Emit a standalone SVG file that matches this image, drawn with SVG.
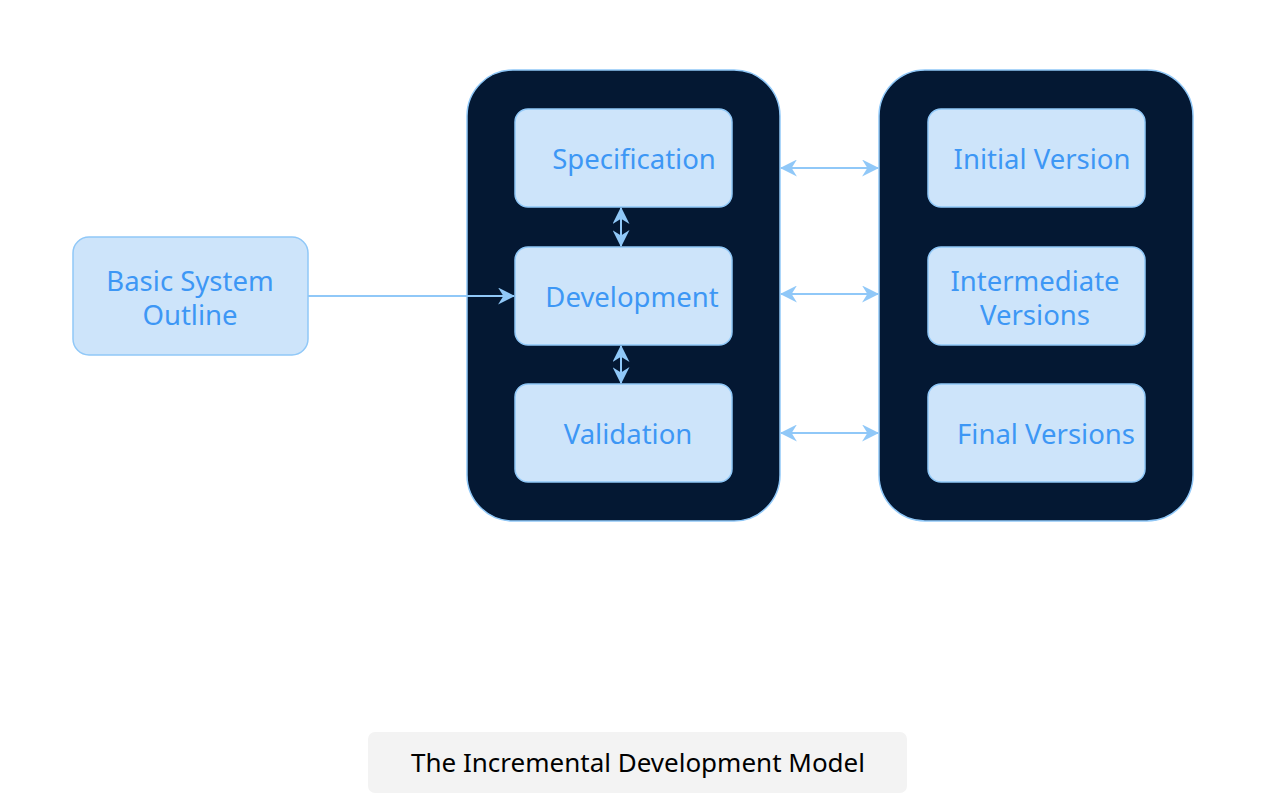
<svg xmlns="http://www.w3.org/2000/svg" width="1268" height="794" viewBox="0 0 1268 794">
<defs>
<style>
.container{fill:#041833;stroke:#90c8f8;stroke-width:1.5}
.box{fill:#cde4fa;stroke:#90c8f8;stroke-width:1.5}
.lbl{font-family:"Noto Sans","DejaVu Sans",sans-serif;font-size:27.5px;fill:#3d97f5;text-anchor:middle}
.cap{font-family:"Noto Sans","DejaVu Sans",sans-serif;font-size:26px;fill:#000000;text-anchor:middle}
.conn{fill:none;stroke:#90c8f8;stroke-width:2}
</style>
<marker id="ah" viewBox="0 0 16 16" refX="15" refY="8" markerWidth="17" markerHeight="17" markerUnits="userSpaceOnUse" orient="auto-start-reverse">
<path d="M0,0 L16,8 L0,16 L5,8 Z" fill="#90c8f8"/>
</marker>
</defs>
<rect width="1268" height="794" fill="#ffffff"/>
<g id="phases">
<rect class="container" x="467" y="70" width="313" height="451" rx="46"/>
</g>
<g id="versions">
<rect class="container" x="879" y="70" width="314" height="451" rx="46"/>
</g>
<g id="outline">
<rect class="box" x="73" y="237" width="235" height="118" rx="16"/>
<text class="lbl" x="190" y="291">Basic System</text>
<text class="lbl" x="190" y="325">Outline</text>
</g>
<g id="specification">
<rect class="box" x="515" y="109" width="217" height="98" rx="13"/>
<text class="lbl" x="634" y="169">Specification</text>
</g>
<g id="development">
<rect class="box" x="515" y="247" width="217" height="98" rx="13"/>
<text class="lbl" x="632" y="307">Development</text>
</g>
<g id="validation">
<rect class="box" x="515" y="384" width="217" height="98" rx="13"/>
<text class="lbl" x="628" y="444">Validation</text>
</g>
<g id="initial">
<rect class="box" x="928" y="109" width="217" height="98" rx="13"/>
<text class="lbl" x="1042" y="169">Initial Version</text>
</g>
<g id="intermediate">
<rect class="box" x="928" y="247" width="217" height="98" rx="13"/>
<text class="lbl" x="1035" y="291">Intermediate</text>
<text class="lbl" x="1035" y="325">Versions</text>
</g>
<g id="final">
<rect class="box" x="928" y="384" width="217" height="98" rx="13"/>
<text class="lbl" x="1046" y="444">Final Versions</text>
</g>
<g id="connectors">
<path class="conn" d="M308,296 L514,296" marker-end="url(#ah)"/>
<path class="conn" d="M621,208 L621,246" marker-start="url(#ah)" marker-end="url(#ah)"/>
<path class="conn" d="M621,346 L621,383" marker-start="url(#ah)" marker-end="url(#ah)"/>
<path class="conn" d="M781,168 L878,168" marker-start="url(#ah)" marker-end="url(#ah)"/>
<path class="conn" d="M781,294 L878,294" marker-start="url(#ah)" marker-end="url(#ah)"/>
<path class="conn" d="M781,433 L878,433" marker-start="url(#ah)" marker-end="url(#ah)"/>
</g>
<g id="caption">
<rect x="368" y="732" width="539" height="61" rx="7" fill="#f3f3f3"/>
<text class="cap" x="638" y="772">The Incremental Development Model</text>
</g>
</svg>
